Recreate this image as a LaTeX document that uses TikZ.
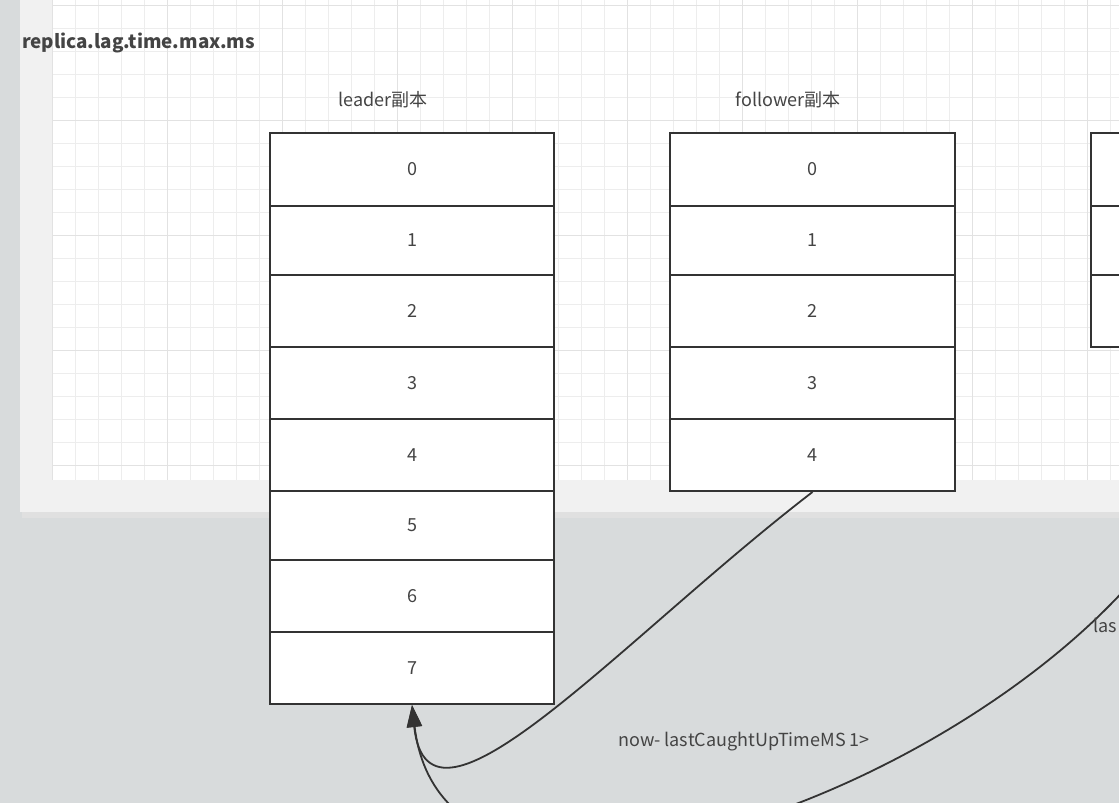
\documentclass[tikz,border=0pt]{standalone}
\usepackage{fontspec}
\setmainfont{Noto Sans CJK SC}
\usetikzlibrary{arrows.meta}
\definecolor{bggray}{HTML}{D8DBDC}
\definecolor{panel}{HTML}{F1F1F1}
\definecolor{gridc}{HTML}{EDEDED}
\definecolor{gridd}{HTML}{E2E2E2}
\definecolor{ink}{HTML}{333333}
\definecolor{txt}{HTML}{444444}
\tikzset{
  cell/.style={draw=ink, line width=2pt, fill=white, minimum width=284pt, inner sep=0pt,
    font=\fontsize{18}{21}\selectfont, text=txt},
  lbl/.style={font=\fontsize{18}{21}\selectfont, text=txt, inner sep=0pt},
  conn/.style={draw=ink, line width=1.8pt},
  tip/.style={-{Triangle[length=22pt,width=15pt]}}
}
\begin{document}
\begin{tikzpicture}[x=1pt,y=-1pt]
\useasboundingbox (0,0) rectangle (1119,803);
\clip (0,0) rectangle (1119,803);
% background
\fill[bggray] (0,0) rectangle (1119,803);
% panel shadow and panel
\fill[black!12] (22,508) rectangle (1130,518);
\fill[panel] (20,0) rectangle (1130,512);
\fill[white] (52,0) rectangle (1130,480);
\begin{scope}
\clip (52,0) rectangle (1130,480);
\foreach \i in {0,...,48} {
  \draw[gridc, line width=0.8pt] ({52+23*\i},0) -- ({52+23*\i},480);
}
\foreach \j in {0,...,21} {
  \draw[gridc, line width=0.8pt] (52,{5+23*\j}) -- (1130,{5+23*\j});
}
\foreach \i in {0,5,...,45} {
  \draw[gridd, line width=0.9pt] ({52+23*\i},0) -- ({52+23*\i},480);
}
\foreach \j in {0,5,...,20} {
  \draw[gridd, line width=0.9pt] (52,{5+23*\j}) -- (1130,{5+23*\j});
}
\end{scope}
% title
\node[lbl, anchor=west, font=\fontsize{18.8}{22}\selectfont\bfseries] (title) at (22,43) {replica.lag.time.max.ms};
% column labels
\node[lbl] (leaderlbl) at (383,100) {leader副本};
\node[lbl] (followerlbl) at (788,100) {follower副本};
% leader cells
\node[cell, minimum height=73pt] (L0) at (412,169.5) {0};
\node[cell, minimum height=69pt] (L1) at (412,240.5) {1};
\node[cell, minimum height=72pt] (L2) at (412,311) {2};
\node[cell, minimum height=72pt] (L3) at (412,383) {3};
\node[cell, minimum height=72pt] (L4) at (412,455) {4};
\node[cell, minimum height=69pt] (L5) at (412,525.5) {5};
\node[cell, minimum height=72pt] (L6) at (412,596) {6};
\node[cell, minimum height=72pt] (L7) at (412,668) {7};
% follower cells
\node[cell, minimum width=285pt, minimum height=73pt] (F0) at (812.5,169.5) {0};
\node[cell, minimum width=285pt, minimum height=69pt] (F1) at (812.5,240.5) {1};
\node[cell, minimum width=285pt, minimum height=72pt] (F2) at (812.5,311) {2};
\node[cell, minimum width=285pt, minimum height=72pt] (F3) at (812.5,383) {3};
\node[cell, minimum width=285pt, minimum height=72pt] (F4) at (812.5,455) {4};
% third column (cut off at the right)
\node[cell, minimum width=285pt, minimum height=73pt] (T0) at (1233.5,169.5) {};
\node[cell, minimum width=285pt, minimum height=69pt] (T1) at (1233.5,240.5) {};
\node[cell, minimum width=285pt, minimum height=72pt] (T2) at (1233.5,311) {};
% connectors
\coordinate (far) at (1150,560);
\path[conn, tip] (F4.south) .. controls (620,640) and (428,860) .. (L7.south);
\path[conn, tip] (far) .. controls (960,800) and (445,980) .. (L7.south);
% labels
\node[lbl, anchor=west] (cond) at (618,742) {now- lastCaughtUpTimeMS 1>};
\node[lbl, anchor=west] (las) at (1093,625) {las};
\end{tikzpicture}
\end{document}
